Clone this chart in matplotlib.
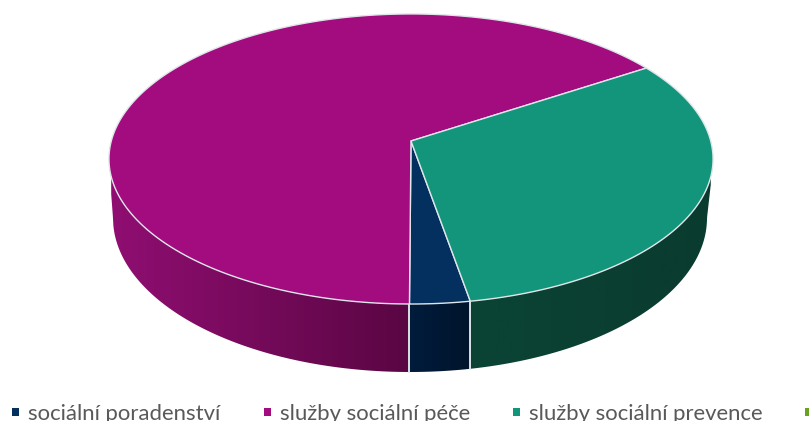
"""3D-look pie chart drawn on a pixel-sized axes."""
import numpy as np
import matplotlib
matplotlib.use("Agg")
import matplotlib.pyplot as plt
from matplotlib.colors import LinearSegmentedColormap
from matplotlib.patches import Polygon, Rectangle

categories = ["sociální poradenství", "služby sociální péče", "služby sociální prevence", ""]
shares = [2.85, 65.75, 31.4, 0.0]
top_colors = ["#04305f", "#a30c7e", "#13957b", "#6aa121"]
side_light = ["#001c3c", "#900e72", "#0a4435", "#6aa121"]
side_dark = ["#00142c", "#5a0643", "#0a3b2f", "#6aa121"]
legend_x = [12, 264, 513, 805]

START_DEG = 170.0
EDGE = "#dfe6ea"
CX, CY = 411, 141
RX, RY, TILT = 299.7, 142.8, 0.124
BASE_CX, BASE_CY, BASE_RX, BASE_RY = 410, 218, 297, 154


def rim(deg):
    """Top surface point for a clockwise angle from 12 o'clock."""
    a = np.radians(deg)
    u, v = np.sin(a), -np.cos(a)
    w = 1 - TILT * v
    return CX + RX * u / w, CY + RY * v / w


def base_y(x):
    """Lower outline of the wall, with short straight pieces at both ends."""
    t = np.clip((x - BASE_CX) / BASE_RX, -1, 1)
    y = BASE_CY + BASE_RY * np.sqrt(1 - t ** 2)
    y = np.where(x < BASE_CX - BASE_RX, np.interp(x, [109, 113], [165, 218]), y)
    y = np.where(x > BASE_CX + BASE_RX, np.interp(x, [707, 713], [218, 165]), y)
    return y


fig = plt.figure(figsize=(8.09, 4.21), dpi=100)
ax = fig.add_axes([0, 0, 1, 1])

angle = START_DEG
for share, top, light, dark in zip(shares, top_colors, side_light, side_dark):
    if share == 0:
        continue
    end = angle + share * 3.6
    degs = np.linspace(angle, end, 400)
    xs, ys = rim(degs)

    # side wall, only the part facing the viewer
    front = (degs % 360 > 90) & (degs % 360 < 270)
    wx, wy = xs[front], ys[front]
    wall = Polygon(np.column_stack([np.r_[wx, wx[::-1]], np.r_[wy, base_y(wx)[::-1]]]),
                   closed=True, fc="none", ec="none", transform=ax.transData)
    ax.add_patch(wall)
    cmap = LinearSegmentedColormap.from_list("wall", [light, dark])
    im = ax.imshow(np.linspace(0, 1, 256).reshape(1, -1), cmap=cmap, aspect="auto",
                   extent=[wx.min(), wx.max(), 421, 0], zorder=2)
    im.set_clip_path(wall)
    for i in (0, -1):
        if abs(wx[i] - CX) < 100:
            ax.plot([wx[i], wx[i]], [wy[i], base_y(wx[i])], color=EDGE, lw=1.1, zorder=3)

    # top surface
    ax.add_patch(Polygon(np.column_stack([np.r_[CX, xs], np.r_[CY, ys]]), closed=True,
                         fc=top, ec=EDGE, lw=1.0, zorder=4))
    angle = end

for name, color, x in zip(categories, top_colors, legend_x):
    ax.add_patch(Rectangle((x, 408), 7.5, 7.5, fc=color, ec="none", zorder=5))
    if name:
        ax.text(x + 16, 419.5, name, fontsize=15.9, family="Lato", color="#595959",
                ha="left", va="baseline", zorder=5)

ax.set_xlim(0, 809)
ax.set_ylim(421, 0)
ax.axis("off")
fig.savefig("out.png", dpi=100, facecolor="white")
